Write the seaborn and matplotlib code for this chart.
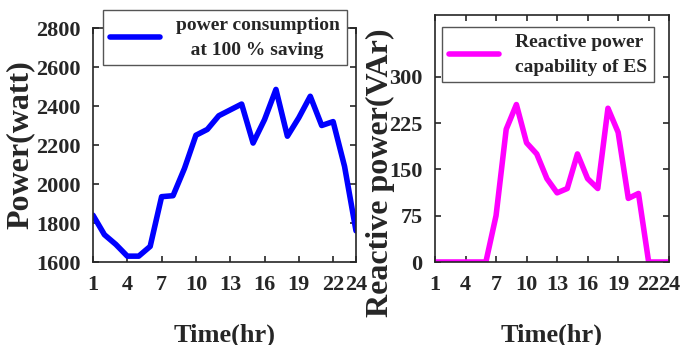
import numpy as np
import pandas as pd
import seaborn as sns
import matplotlib.pyplot as plt

# datos
hours = list(range(1, 25))
power_watt = [1840, 1740, 1690, 1630, 1630, 1680, 1935, 1940, 2080, 2250, 2280, 2350,
              2380, 2410, 2210, 2330, 2485, 2245, 2340, 2450, 2300, 2320, 2090, 1760]
reactive_var = [0, 0, 0, 0, 0, 0, 75, 215, 255, 193, 175, 135,
                112, 119, 175, 135, 119, 249, 210, 103, 111, 0, 0, 0]

xticks = [1, 4, 7, 10, 13, 16, 19, 22, 24]
yticks_left = [1600, 1800, 2000, 2200, 2400, 2600, 2800]
yticks_right = [0, 75, 150, 225, 300]

df = pd.DataFrame({"hour": hours, "power": power_watt, "reactive": reactive_var})

sns.set_style("ticks")
plt.rcParams['font.family'] = ['Liberation Serif', 'DejaVu Serif']
plt.rcParams['font.weight'] = 'bold'

W, H = 683, 345
fig = plt.figure(figsize=(W / 100, H / 100), dpi=100)

def px_axes(x0, y0, x1, y1):
    return fig.add_axes([x0 / W, 1 - y1 / H, (x1 - x0) / W, (y1 - y0) / H])

ax1 = px_axes(93, 28, 356, 262)
ax2 = px_axes(435, 15, 669, 262)

sns.lineplot(data=df, x="hour", y="power", ax=ax1, color="#0000ff", lw=4,
             label="power consumption\n   at 100 % saving")
sns.lineplot(data=df, x="hour", y="reactive", ax=ax2, color="#ff00ff", lw=4,
             label="Reactive power\ncapability of ES")

ax1.set_ylim(1600, 2800)
ax1.set_yticks(yticks_left)
ax2.set_ylim(0, 400)
ax2.set_yticks(yticks_right)

for ax in (ax1, ax2):
    ax.set_xlim(1, 24)
    ax.set_xticks(xticks)
    ax.set_xticklabels([str(t) for t in xticks])
    ax.tick_params(direction="in", top=True, right=True, length=4, width=1.2,
                   labelsize=16, pad=9, colors="#262626")
    for lab in ax.get_xticklabels() + ax.get_yticklabels():
        lab.set_fontweight("bold")
    for s in ax.spines.values():
        s.set_visible(True)
        s.set_linewidth(1.2)
        s.set_color("#262626")
    ax.set_xlabel("Time(hr)", fontsize=19, fontweight="bold", color="#262626")

ax1.set_ylabel("Power(watt)", fontsize=23, fontweight="bold", color="#262626")
ax2.set_ylabel("Reactive power(VAr)", fontsize=23, fontweight="bold", color="#262626")
ax1.xaxis.set_label_coords(0.5, -0.265)
ax2.xaxis.set_label_coords(0.5, -0.25)
ax1.yaxis.set_label_coords(-0.22, 0.5)
ax2.yaxis.set_label_coords(-0.17, 0.36)

leg1 = ax1.legend(loc="upper left", bbox_to_anchor=(103 / W, 1 - 10 / H),
                  bbox_transform=fig.transFigure, borderaxespad=0, fancybox=False,
                  framealpha=1, edgecolor="#555555", handlelength=2.6,
                  borderpad=0.35, prop={"size": 14, "weight": "bold"})
leg2 = ax2.legend(loc="upper left", bbox_to_anchor=(442 / W, 1 - 27 / H),
                  bbox_transform=fig.transFigure, borderaxespad=0, fancybox=False,
                  framealpha=1, edgecolor="#555555", handlelength=2.6,
                  borderpad=0.35, prop={"size": 14, "weight": "bold"})
for leg in (leg1, leg2):
    leg.get_frame().set_linewidth(1.0)
    leg.set_zorder(10)
    for t in leg.get_texts():
        t.set_linespacing(1.6)

fig.savefig("out.png", dpi=100)
